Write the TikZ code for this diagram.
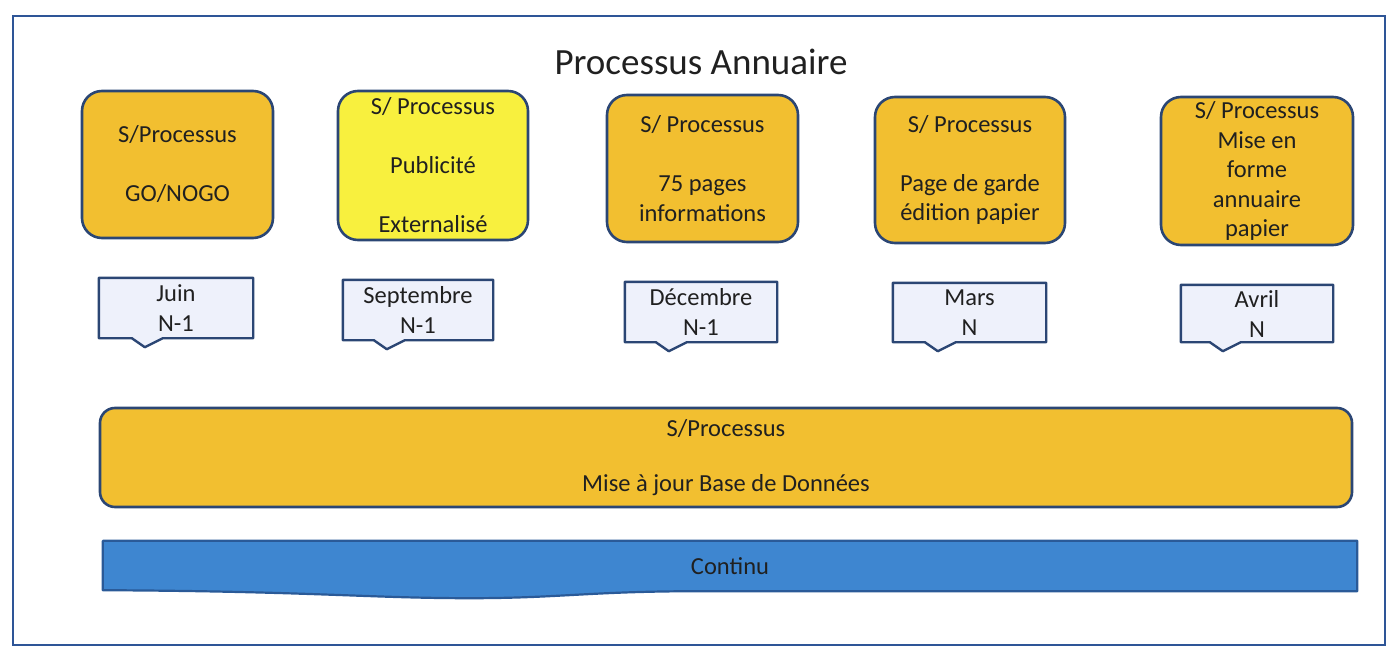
\documentclass[tikz,border=0pt]{standalone}
\usepackage{fontspec}
\setmainfont{Carlito}
\usetikzlibrary{calc,backgrounds}

\definecolor{framecol}{HTML}{2E5597}
\definecolor{edgecol}{HTML}{2B4674}
\definecolor{procfill}{HTML}{F2BF30}
\definecolor{pubfill}{HTML}{F8F03E}
\definecolor{notefill}{HTML}{EEF1FB}
\definecolor{barfill}{HTML}{3E86D0}
\definecolor{baredge}{HTML}{2A5A98}
\definecolor{txt}{HTML}{202020}

\tikzset{
  procbox/.style={draw=edgecol, line width=2.6pt, fill=procfill, rounded corners=20pt,
    inner sep=0pt, align=center, text=txt,
    font=\fontsize{24.5}{29.5}\selectfont},
  monthnote/.style={inner sep=0pt, align=center, text=txt,
    font=\fontsize{24.5}{30}\selectfont},
  noteline/.style={draw=edgecol, line width=2.4pt, fill=notefill, line join=round},
}

\begin{document}
\begin{tikzpicture}[x=1pt, y=-1pt]
\useasboundingbox (0,0) rectangle (1388,652);

% outer frame
\draw[framecol, line width=2.8pt] (13,16) rectangle (1385,645);

% title
\node[text=txt, font=\fontsize{37}{44}\selectfont] (title) at (701,62) {Processus Annuaire};

% sub-process boxes
\node[procbox, minimum width=191pt, minimum height=147pt] (p1) at (177.5,164.5)
  {S/Processus\\ \\GO/NOGO};
\node[procbox, fill=pubfill, minimum width=190pt, minimum height=149pt] (p2) at (433,165.5)
  {S/ Processus\\ \\Publicité\\ \\Externalisé};
\node[procbox, minimum width=191pt, minimum height=147pt] (p3) at (702.5,168.5)
  {S/ Processus\\ \\75 pages\\informations};
\node[procbox, minimum width=190pt, minimum height=146pt] (p4) at (970,170)
  {S/ Processus\\ \\Page de garde\\édition papier};
\node[procbox, minimum width=192pt, minimum height=148pt] (p5) at (1257,171)
  {S/ Processus\\Mise en\\forme\\annuaire\\papier};

% month callouts
\node[monthnote, minimum width=154pt, minimum height=60pt] (m1) at (176,308) {Juin\\N-1};
\node[monthnote, minimum width=150pt, minimum height=60pt] (m2) at (418,310) {Septembre\\N-1};
\node[monthnote, minimum width=152pt, minimum height=60pt] (m3) at (701,312) {Décembre\\N-1};
\node[monthnote, minimum width=153pt, minimum height=59pt] (m4) at (969.5,312.5) {Mars\\N};
\node[monthnote, minimum width=152pt, minimum height=57pt] (m5) at (1257,313.5) {Avril\\N};

\begin{scope}[on background layer]
  \foreach \n/\d in {m1/46, m2/44, m3/44, m4/45, m5/42} {
    \path[noteline] (\n.north west) -- (\n.north east) -- (\n.south east)
      -- ($(\n.south west)+(\d+18,0)$)
      -- ($(\n.south west)+(\d,9)$)
      -- ($(\n.south west)+(\d-13,0)$)
      -- (\n.south west) -- cycle;
  }
\end{scope}

% database update band
\node[procbox, rounded corners=15pt, minimum width=1252pt, minimum height=99pt] (db) at (726,457.5)
  {S/Processus\\[26pt]Mise à jour Base de Données};

% continuous band
\node[inner sep=0pt, minimum width=1254pt, minimum height=50pt, text=txt,
  font=\fontsize{24.5}{29.5}\selectfont] (cont) at (730,566) {Continu};
\begin{scope}[on background layer]
  \path[draw=baredge, line width=2.2pt, fill=barfill, line join=round]
    (cont.north west) -- (cont.north east) -- (cont.south east)
    -- ($(cont.south)+(-30,0)$)
    .. controls ($(cont.south)+(-140,0)$) and ($(cont.south)+(-170,7)$) .. ($(cont.south)+(-260,7)$)
    .. controls ($(cont.south)+(-360,7)$) and ($(cont.south)+(-420,0)$) .. ($(cont.south west)+(0,-1)$)
    -- cycle;
\end{scope}
\end{tikzpicture}
\end{document}
